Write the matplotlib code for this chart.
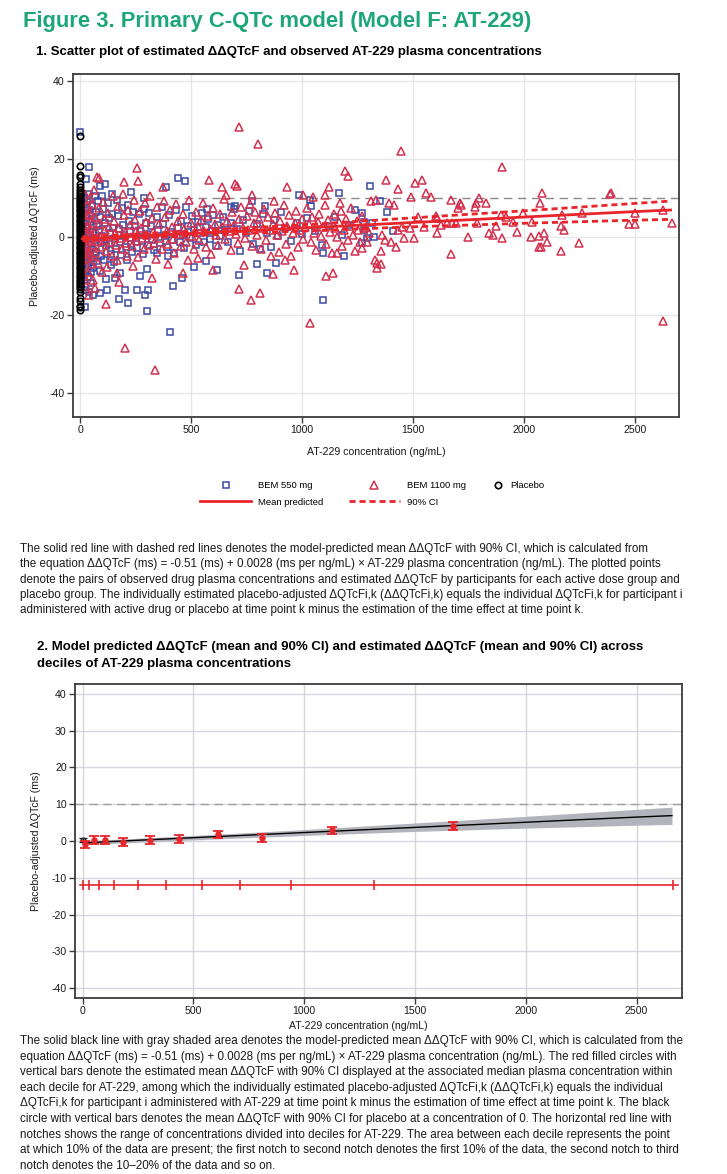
import numpy as np
import matplotlib
matplotlib.use('Agg')
import matplotlib.pyplot as plt
from matplotlib.lines import Line2D

plt.rcParams['font.family'] = ['Liberation Sans', 'DejaVu Sans']
plt.rcParams['axes.unicode_minus'] = False

# ---------------- data: panel 1 scatter ----------------
# BEM 550 mg (conc ng/mL, ddQTcF ms)
bem550 = [
    (5, 11), (8, 8.5), (10, 6), (12, 3.5), (6, 1), (9, -2), (11, -4.5), (7, -7), (14, -9.5), (4, -12),
    (16, 10), (20, 7.5), (18, 4), (22, 1.5), (19, -1), (24, -3.5), (21, -6), (25, -8.5), (17, -11), (23, -13.5),
    (30, 9), (28, 5.5), (33, 2.5), (35, -0.5), (31, -2.8), (29, -5.2), (36, -7.5), (34, -10.2), (40, 11), (42, 6.8),
    (45, 3.8), (38, 0.5), (47, -1.8), (44, -4), (41, -6.5), (48, -9), (50, -11.8), (52, 8), (55, 4.5), (58, 1.2),
    (53, -3), (57, -5.5), (60, -8), (65, 10.5), (70, 6.5), (75, 2.8), (68, -0.8), (72, -3.8), (78, -6.2), (82, 9.3),
    (88, 5), (85, 1.9), (92, -1.5), (95, -4.8), (90, -8.7), (100, 10.4), (105, 7.2), (110, 3.6), (98, 0.3), (115, -2.4),
    (108, -5.8), (118, -10.8), (125, 8.6), (130, 4.8), (135, 1.1), (128, -1.9), (140, -4.3), (138, -7.1), (145, 6), (150, 2.4),
    (155, -0.6), (160, -3.2), (152, -6.5), (165, 9.6), (170, 5.4), (175, 2), (180, -1.2), (185, -4.6), (178, -9.2), (190, 7.4),
    (195, 3), (200, 0.4), (205, -2.6), (210, -5.9), (215, 8.2), (220, 4.2), (225, 1.6), (230, -1.7), (235, -3.9), (240, 6.4),
    (248, 2.9), (252, -0.2), (258, -2.9), (265, 5.8), (272, 1.4), (278, -1.1), (285, -4.4), (290, 7.1), (296, 3.5), (300, 0.8),
    (305, -2.1), (312, 6.2), (320, 2.7), (326, -0.9), (334, -3.4), (345, 5.1), (352, 1.9), (360, -1.6), (368, 7.6), (375, 3.2),
    (382, 0.2), (390, -2.5), (400, 5.6), (408, 1.3), (415, -0.7), (423, -4), (432, 6.9), (440, 2.2), (448, -1.4), (455, 4.1),
    (463, 0.6), (470, -2.9), (478, 7.8), (486, 2.9), (495, -0.4), (505, 5.3), (512, 1.7), (520, -2), (530, 3.8), (540, 0.9),
    (548, 6.1), (556, -1.2), (565, 2.5), (575, 4.6), (585, -0.6), (592, 1.6), (600, 5.7), (612, -2.4), (620, 3.1), (630, 0.3),
    (642, 5), (655, 1.8), (668, -1.4), (680, 3.6), (695, 7.2), (705, 2.1), (720, -3.6), (735, 4.4), (748, 0.9), (762, 6.7),
    (780, -1.9), (795, 3.2), (810, -3), (826, 5.9), (840, 1.1), (858, -2.7), (872, 4.3), (890, 0.2), (905, 6.5), (925, 2.4),
    (950, -1), (975, 3.7), (1000, 0.7), (1020, 4.9), (1060, 1.5), (1090, -2.2), (1120, 2.8), (1150, 5.2), (1180, 0.4), (1210, 3.1),
    (1240, 6.8),
    (0, 26.8), (39, 17.9), (26, 14.9), (110, 13.6), (90, 13.1), (230, 11.6), (143, 11.0), (290, 10.1), (386, 12.7), (440, 15.0),
    (471, 14.4), (986, 10.8), (1167, 11.2), (1036, 9.5), (1042, 7.9), (835, 7.9), (776, 9.1), (700, 8.0), (679, 7.8), (571, 7.2),
    (24, -17.9), (42, -14.2), (57, -14.9), (90, -14.4), (120, -13.6), (159, -10.6), (203, -13.6), (218, -17), (255, -13.6), (176, -16),
    (293, -14.9), (308, -13.6), (300, -18.9), (407, -24.5), (270, -10), (300, -8.3), (420, -12.6), (461, -10.6), (511, -7.8), (566, -6.2),
    (616, -8.6), (715, -9.7), (796, -6.9), (841, -9.3), (881, -6.8), (1093, -16.3), (1093, -4.0), (1191, -4.9), (398, -5.0), (345, -4.2),
    (1305, 13.1), (1350, 9.2), (1384, 6.5), (1272, 6.2), (1279, 3.9), (1317, 3.5), (1411, 1.4), (1279, 1.8), (1294, -0.3), (1324, 0.1),
    (1272, -1.6),
]

# BEM 1100 mg
bem1100 = [
    (4, 9.5), (7, 5.5), (9, 2), (6, -1.5), (10, -4), (8, -8), (13, 7), (15, 3), (12, 0), (16, -2.5),
    (14, -6), (18, -10), (20, 11), (22, 4.5), (25, 1), (23, -3), (27, -5.5), (26, -12.5), (32, 8), (35, 5.5),
    (30, 2.5), (37, -0.5), (33, -2), (39, -4.5), (36, -9), (43, 10), (46, 6), (44, 2), (49, -1), (42, -3.5),
    (47, -7), (54, 8.5), (56, 3.5), (52, 0.5), (58, -2.2), (55, -5), (59, -11), (63, 12), (66, 5), (70, 1.5),
    (74, -1), (67, -4.2), (79, -6.8), (83, 7.5), (87, 3.2), (91, 0), (94, -2.7), (97, -9), (103, 9), (106, 4.6),
    (111, 1.8), (113, -0.8), (117, -3.6), (120, -7.8), (126, 6.2), (132, 2.6), (136, -1.3), (142, -5), (147, 10.5), (151, 4),
    (157, 0.9), (162, -2), (168, -6), (172, 8), (177, 2.2), (183, -0.4), (188, -3), (193, 11), (198, 5.6), (203, 1.2),
    (208, -1.6), (212, -4.8), (218, 7), (223, 3), (228, 0), (233, -2.4), (238, -7.4), (243, 9.6), (247, 4.4), (253, 1.5),
    (257, -1), (262, -5.2), (268, 6.6), (273, 2.3), (280, -0.3), (286, -3.2), (292, 8.8), (298, 3.8), (303, 0.6), (309, -2),
    (315, 10.4), (322, 4.8), (328, 1.2), (335, -1.5), (341, -5.6), (348, 7.6), (355, 3.4), (362, -0.2), (370, -3), (378, 9.2),
    (384, 5), (391, 1.6), (397, -1.9), (405, 6.8), (412, 2.5), (418, -0.5), (425, -4.2), (433, 8.4), (441, 4), (447, 0.7),
    (454, -2.3), (462, 5.8), (470, 2), (477, -1.3), (484, -6), (492, 9.6), (499, 3.5), (506, 0.2), (514, -3), (522, 6.5),
    (530, 2.8), (537, -0.9), (545, 4.4), (553, 8.8), (560, 1.4), (568, -2.6), (575, 5.4), (584, 2), (591, -4.4), (598, 7.4),
    (606, 3.3), (614, 0.5), (622, -2), (630, 5.9), (638, 2.6), (646, 9.7), (654, -0.6), (662, 4.2), (670, 1.4), (678, -3.3),
    (686, 6.4), (694, 3.1), (702, 0.8), (710, -1.6), (718, 4.5), (725, 7.7), (733, 2.2), (741, -0.3), (750, 5.4), (758, 1.9),
    (766, 8.5), (774, -2.4), (782, 3.7), (790, 6.4), (798, 0.6), (806, 4.6), (814, -3.2), (822, 2.4), (830, 7.2), (838, -0.8),
    (846, 5.2), (854, 1.8), (862, -4.8), (870, 3.4), (878, 6.2), (886, 0.4), (894, -3.9), (902, 4), (910, 1.6), (918, 8.1),
    (926, -1.8), (934, 2.9), (942, 5.6), (950, -5), (958, 0.9), (966, 3.6), (974, 6.7), (982, -2.6), (990, 1.8), (998, 4.7),
    (1006, -0.6), (1014, 2.5), (1022, 7.5), (1030, 3.3), (1038, -1.2), (1046, 5.1), (1054, 1), (1062, -3.4), (1070, 3.9), (1078, 6),
    (1086, 0.2), (1094, 2.6), (1102, 8.2), (1110, -1.9), (1118, 4.3), (1126, 1.3), (1134, -4.1), (1142, 5.8), (1150, 2.2), (1158, 0),
    (1166, 3.8), (1174, 6.6), (1182, -2.3), (1190, 1.7), (1198, 4.5), (1206, -0.8), (1214, 2.9), (1222, 7.4), (1230, 0.6), (1238, -3.7),
    (1246, 4.1), (1254, 1.9), (1262, -1.4), (1270, 5.3), (1278, 2.4),
    (715, 28.3), (800, 23.8), (258, 17.6), (263, 14.4), (198, 14.0), (75, 15.3), (83, 15), (581, 14.6), (700, 13.6), (706, 13.1),
    (372, 12.9), (640, 12.7), (934, 12.7), (657, 10.8), (1006, 10.8), (1051, 10.2), (1104, 10.8), (1123, 12.9), (1171, 8.8), (1194, 16.8),
    (1206, 15.6), (872, 9.1), (773, 10.8), (201, -28.5), (336, -34.1), (1036, -22.1), (769, -16.2), (811, -14.3), (718, -13.4), (1108, -10),
    (964, -8.6), (869, -9.6), (739, -7.2), (117, -17.1), (173, -11.5), (165, -9.3), (68, -13.2), (42, -14.9), (532, -5.4), (598, -8.5),
    (323, -10.6), (396, -6.9), (465, -9.3), (925, -5.9), (1156, -4.2), (1141, -9.3),
    (1444, 22.1), (1902, 17.9), (1377, 14.6), (1507, 13.8), (1541, 14.6), (1431, 12.2), (1559, 11.2), (1580, 10.3), (1492, 10.2), (2083, 11.2),
    (2387, 10.9), (2393, 11.2), (1670, 9.5), (1710, 8.8), (1714, 8.2), (1703, 7.4), (1799, 9.9), (1785, 8.8), (1827, 8.6), (1779, 7.6),
    (2071, 8.8), (1309, 9.1), (1332, 9.5), (1392, 8.6), (1414, 8.2), (1894, 5.6), (1917, 5.2), (1995, 6.1), (2173, 5.5), (2263, 6.2),
    (2499, 6.2), (2628, 6.8), (1602, 5.4), (1610, 4.8), (1520, 5.2), (1950, 3.9), (2035, 3.9), (2165, 2.9), (2180, 1.8), (2473, 3.3),
    (2500, 3.3), (2667, 3.5), (1872, 2.8), (1842, 0.9), (1862, 0.5), (1901, -0.2), (1970, 1.2), (2030, 0.1), (2068, 0.3), (2090, 0.9),
    (2075, -2.5), (2068, -2.5), (2105, -1.2), (2165, -3.5), (2248, -1.6), (1748, 0.1), (1670, -4.4), (1459, -0.3), (1504, -0.3), (1486, 2.2),
    (1550, 2.6), (1610, 0.9), (1625, 3.1), (1655, 3.5), (1677, 3.7), (1692, 3.5), (1790, 3.5), (1354, -3.5), (1329, -5.9), (1339, -6.6),
    (1357, -6.9), (1336, -8.0), (1399, -1.2), (1422, -2.7), (1362, 0.5), (1372, -0.8), (1272, -2.9), (2627, -21.5), (1430, 1.8), (1452, 2.6),
    (1294, -1.2), (1302, 0.9), (1287, 2.6),
]

# Placebo, all at concentration 0
placebo_y = [25.8, 18.2, 15.9, 15.3, 13.6, 12.9, 12.1, 11.6, 11.0, 10.5, 10.1, 9.6, 9.2, 8.7, 8.3, 7.9,
             7.4, 7.0, 6.6, 6.1, 5.7, 5.3, 4.8, 4.4, 4.0, 3.5, 3.1, 2.7, 2.2, 1.8, 1.4, 0.9, 0.5, 0.1,
             -0.3, -0.8, -1.2, -1.6, -2.1, -2.5, -2.9, -3.4, -3.8, -4.2, -4.7, -5.1, -5.5, -6.0, -6.4,
             -6.8, -7.3, -7.7, -8.1, -8.6, -9.0, -9.4, -9.9, -10.3, -10.7, -11.2, -11.6, -12.0, -12.5,
             -12.9, -13.4, -14.1, -15.6, -16.5, -17.6, -18.1, -18.7]

# model prediction (mean and 90% CI)
pred_conc = [10, 500, 1000, 1500, 2000, 2500, 2660]
pred_mean = [-0.48, 0.9, 2.3, 3.7, 5.1, 6.5, 6.9]
pred_lo = [-1.0, 0.3, 1.5, 2.6, 3.5, 4.3, 4.5]
pred_hi = [0.05, 1.5, 3.1, 4.9, 6.7, 8.6, 9.2]

# ---------------- data: panel 2 deciles ----------------
dec_conc = [12, 52, 102, 184, 306, 437, 612, 812, 1127, 1670]
dec_mean = [-0.8, 0.15, 0.35, -0.3, 0.35, 0.55, 1.8, 0.8, 2.9, 4.05]
dec_lo = [-1.9, -0.9, -0.8, -1.3, -0.7, -0.55, 0.8, -0.35, 1.8, 2.95]
dec_hi = [0.05, 1.25, 1.45, 0.7, 1.45, 1.55, 2.6, 1.8, 3.8, 5.05]
pbo_mean, pbo_lo, pbo_hi = 0.25, -0.25, 0.7
decile_edges = [0, 30, 75, 140, 251, 376, 537, 711, 939, 1314, 2665]

# ---------------- text ----------------
title = 'Figure 3. Primary C-QTc model (Model F: AT-229)'
sub1 = '1. Scatter plot of estimated ΔΔQTcF and observed AT-229 plasma concentrations'
sub2 = ['2. Model predicted ΔΔQTcF (mean and 90% CI) and estimated ΔΔQTcF (mean and 90% CI) across',
        'deciles of AT-229 plasma concentrations']
para1 = [
    'The solid red line with dashed red lines denotes the model-predicted mean ΔΔQTcF with 90% CI, which is calculated from',
    'the equation ΔΔQTcF (ms) = -0.51 (ms) + 0.0028 (ms per ng/mL) × AT-229 plasma concentration (ng/mL). The plotted points',
    'denote the pairs of observed drug plasma concentrations and estimated ΔΔQTcF by participants for each active dose group and',
    'placebo group. The individually estimated placebo-adjusted ΔQTcFi,k (ΔΔQTcFi,k) equals the individual ΔQTcFi,k for participant i',
    'administered with active drug or placebo at time point k minus the estimation of the time effect at time point k.',
]
para2 = [
    'The solid black line with gray shaded area denotes the model-predicted mean ΔΔQTcF with 90% CI, which is calculated from the',
    'equation ΔΔQTcF (ms) = -0.51 (ms) + 0.0028 (ms per ng/mL) × AT-229 plasma concentration (ng/mL). The red filled circles with',
    'vertical bars denote the estimated mean ΔΔQTcF with 90% CI displayed at the associated median plasma concentration within',
    'each decile for AT-229, among which the individually estimated placebo-adjusted ΔQTcFi,k (ΔΔQTcFi,k) equals the individual',
    'ΔQTcFi,k for participant i administered with AT-229 at time point k minus the estimation of time effect at time point k. The black',
    'circle with vertical bars denotes the mean ΔΔQTcF with 90% CI for placebo at a concentration of 0. The horizontal red line with',
    'notches shows the range of concentrations divided into deciles for AT-229. The area between each decile represents the point',
    'at which 10% of the data are present; the first notch to second notch denotes the first 10% of the data, the second notch to third',
    'notch denotes the 10–20% of the data and so on.',
]

BLUE = '#3a4aa2'
TRI = '#d2314f'
RED = '#e8252b'
GREEN = '#1ea67b'
W, H = 727, 1174

fig = plt.figure(figsize=(W / 100, H / 100), dpi=100)


def fx(px):
    return px / W


def fy(py):
    return 1 - py / H


fig.text(fx(23), fy(21), title, fontsize=15.8, fontweight='bold', color=GREEN, va='center', ha='left')
fig.text(fx(36), fy(52), sub1, fontsize=9.5, fontweight='bold', va='center', ha='left')
for i, line in enumerate(sub2):
    fig.text(fx(37), fy(647 + i * 16.6), line, fontsize=9.5, fontweight='bold', va='center', ha='left')
for i, line in enumerate(para1):
    fig.text(fx(20), fy(549 + i * 15.3), line, fontsize=8.4, color='#1a1a1a', va='center', ha='left')
for i, line in enumerate(para2):
    fig.text(fx(20), fy(1041 + i * 15.6), line, fontsize=8.4, color='#1a1a1a', va='center', ha='left')


def style_axes(ax, grid_color):
    for s in ax.spines.values():
        s.set_color('#3c3c3c')
        s.set_linewidth(1.3)
    ax.tick_params(direction='out', length=4, width=1.0, color='#3c3c3c',
                   labelsize=7.6, labelcolor='#1a1a1a', pad=2)
    ax.grid(True, color=grid_color, linewidth=1.0)
    ax.set_axisbelow(True)


# ---------------- panel 1 ----------------
ax1 = fig.add_axes([fx(73), fy(417), (679 - 73) / W, (417 - 74) / H])
style_axes(ax1, '#e6e6e6')
ax1.axhline(10, color='#8a8a8a', lw=1.0, dashes=(6, 4), zorder=1)
b5 = np.array(bem550).T
b11 = np.array(bem1100).T
ax1.plot(b5[0], b5[1], ls='none', marker='s', ms=4.8, mfc='none', mec=BLUE, mew=1.1, zorder=2)
ax1.plot(b11[0], b11[1], ls='none', marker='^', ms=5.2, mfc='none', mec=TRI, mew=1.1, zorder=3)
ax1.plot(np.zeros(len(placebo_y)), placebo_y, ls='none', marker='o', ms=4.6, mfc='none',
         mec='black', mew=1.2, zorder=4)
ax1.plot(pred_conc, pred_mean, color=RED, lw=2.0, zorder=5)
ax1.plot(pred_conc, pred_lo, color=RED, lw=2.0, dashes=(2.2, 1.4), zorder=5)
ax1.plot(pred_conc, pred_hi, color=RED, lw=2.0, dashes=(2.2, 1.4), zorder=5)
ax1.set_xlim(-32, 2698)
ax1.set_ylim(-46.2, 41.8)
ax1.set_xticks([0, 500, 1000, 1500, 2000, 2500])
ax1.set_yticks([-40, -20, 0, 20, 40])
ax1.set_xlabel('AT-229 concentration (ng/mL)', fontsize=7.6, color='#1a1a1a')
ax1.xaxis.set_label_coords(0.5, -0.088)
ax1.set_ylabel('Placebo-adjusted ΔQTcF (ms)', fontsize=7.6, color='#1a1a1a')
ax1.yaxis.set_label_coords(-0.055, 0.526)

# legend
h_sq = Line2D([], [], ls='none', marker='s', ms=4.8, mfc='none', mec=BLUE, mew=1.1)
h_tri = Line2D([], [], ls='none', marker='^', ms=5.2, mfc='none', mec=TRI, mew=1.1)
h_mean = Line2D([], [], color=RED, lw=2.0)
h_ci = Line2D([], [], color=RED, lw=2.0, dashes=(2.2, 1.4))
h_pbo = Line2D([], [], ls='none', marker='o', ms=4.6, mfc='none', mec='black', mew=1.2)
fig.legend([h_sq, h_mean, h_tri, h_ci], ['BEM 550 mg', 'Mean predicted', 'BEM 1100 mg', '90% CI'],
           ncol=2, loc='center left', bbox_to_anchor=(fx(200), fy(494)), frameon=False,
           fontsize=6.8, handlelength=5.4, handletextpad=0.75, columnspacing=2.7,
           labelspacing=0.75, borderpad=0, borderaxespad=0)
fig.legend([h_pbo], ['Placebo'], loc='center left', bbox_to_anchor=(fx(493), fy(486)), frameon=False,
           fontsize=6.8, handlelength=1.0, handletextpad=0.8, borderpad=0, borderaxespad=0)

# ---------------- panel 2 ----------------
ax2 = fig.add_axes([fx(75), fy(997.7), (681.5 - 75) / W, (997.7 - 684.3) / H])
style_axes(ax2, '#d6d6de')
ax2.axhline(10, color='#a0a0a0', lw=1.0, dashes=(6, 4), zorder=1)
ax2.fill_between(pred_conc, pred_lo, pred_hi, color='#b3b3bb', lw=0, zorder=2)
ax2.plot(pred_conc, pred_mean, color='black', lw=1.0, zorder=3)
ax2.errorbar([0], [pbo_mean], yerr=[[pbo_mean - pbo_lo], [pbo_hi - pbo_mean]], fmt='o', ms=3.2,
             mfc='none', mec='#222222', ecolor='#222222', elinewidth=1.0, capsize=3, zorder=4)
dec_err = [np.array(dec_mean) - np.array(dec_lo), np.array(dec_hi) - np.array(dec_mean)]
ax2.errorbar(dec_conc, dec_mean, yerr=dec_err, fmt='o', ms=3.6, color=RED, ecolor=RED,
             elinewidth=1.3, capsize=3.8, capthick=1.3, zorder=5)
ax2.plot([decile_edges[0] - 10, decile_edges[-1] + 20], [-12, -12], color=RED, lw=1.2, zorder=4)
ax2.plot(decile_edges, [-12] * len(decile_edges), ls='none', marker='|', ms=7, mew=1.2, color=RED, zorder=4)
ax2.set_xlim(-34, 2703)
ax2.set_ylim(-42.6, 42.6)
ax2.set_xticks([0, 500, 1000, 1500, 2000, 2500])
ax2.set_yticks(range(-40, 41, 10))
ax2.set_xlabel('AT-229 concentration (ng/mL)', fontsize=7.6, color='#1a1a1a')
ax2.xaxis.set_label_coords(0.467, -0.075)
ax2.set_ylabel('Placebo-adjusted ΔQTcF (ms)', fontsize=7.6, color='#1a1a1a')
ax2.yaxis.set_label_coords(-0.056, 0.5)

fig.savefig('out.png', dpi=100)
